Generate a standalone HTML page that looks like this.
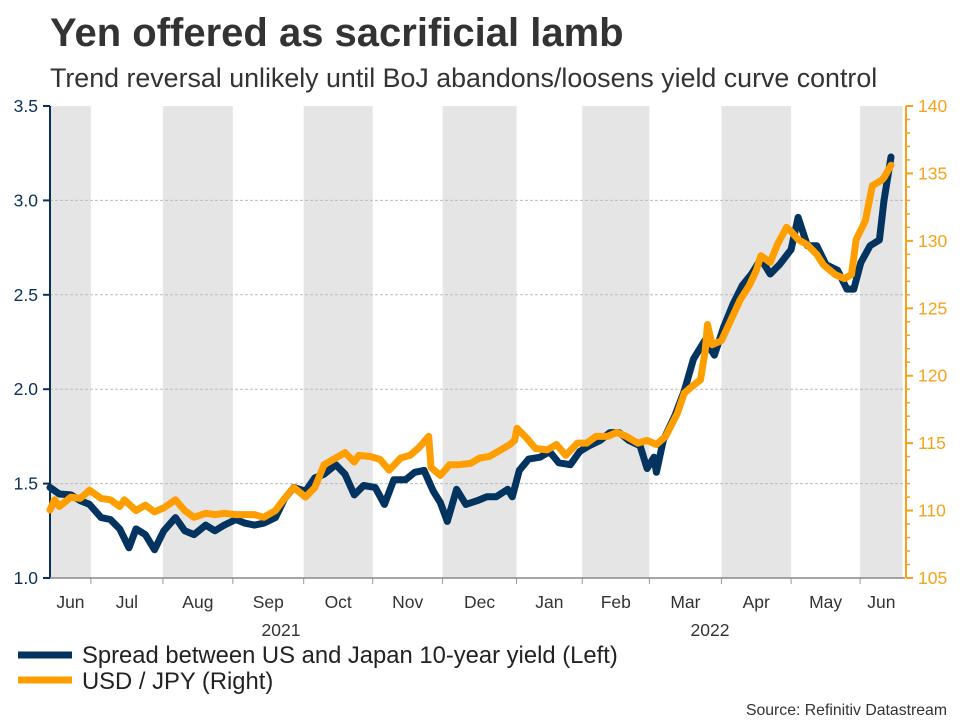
<!DOCTYPE html>
<html><head><meta charset="utf-8"><style>
body{margin:0;background:#fff;}
svg text{font-family:"Liberation Sans",Arial,sans-serif;}
</style></head><body>
<svg width="960" height="720" viewBox="0 0 960 720">
<text x="50" y="46" font-size="40" font-weight="bold" fill="#333">Yen offered as sacrificial lamb</text>
<text x="50" y="87" font-size="26.8" fill="#333">Trend reversal unlikely until BoJ abandons/loosens yield curve control</text>
<g id="bands"></g><g id="grid"></g><g id="axes"></g><g id="lines"></g>
<line x1="18" y1="655" x2="72" y2="655" stroke="#03335f" stroke-width="7"/>
<text x="82" y="663" font-size="23.8" fill="#222">Spread between US and Japan 10-year yield (Left)</text>
<line x1="18" y1="680" x2="72" y2="680" stroke="#ff9e00" stroke-width="7"/>
<text x="82" y="689" font-size="23.8" fill="#222">USD / JPY (Right)</text>
<text x="947" y="715" font-size="15.8" fill="#333" text-anchor="end">Source: Refinitiv Datastream</text>
</svg>
<script>
const spreadDays=[0,4,9,13,17,22,26,30,34,37,41,45,49,54,58,62,67,71,75,80,84,88,92,97,101,105,110,114,118,123,127,131,135,140,144,148,153,157,161,165,168,171,175,179,184,188,192,197,199,202,206,211,215,219,224,228,232,237,241,245,249,254,257,260,261,264,269,273,277,282,286,290,294,298,302,306,310,314,319,322,326,330,334,339,343,346,349,353,357,359,362];
const spreadVals=[1.48,1.445,1.44,1.41,1.39,1.32,1.31,1.26,1.16,1.26,1.23,1.15,1.25,1.32,1.25,1.23,1.28,1.25,1.28,1.31,1.29,1.28,1.29,1.32,1.42,1.48,1.46,1.53,1.55,1.60,1.55,1.44,1.49,1.48,1.39,1.52,1.52,1.56,1.57,1.46,1.40,1.30,1.47,1.39,1.41,1.43,1.43,1.47,1.43,1.57,1.63,1.64,1.67,1.61,1.60,1.67,1.70,1.73,1.77,1.77,1.73,1.70,1.58,1.64,1.56,1.73,1.86,1.99,2.16,2.26,2.18,2.33,2.45,2.55,2.61,2.69,2.61,2.66,2.74,2.91,2.76,2.76,2.66,2.63,2.53,2.53,2.67,2.76,2.79,3.00,3.23];
const jpyDays=[0,2,4,9,13,17,22,26,30,32,37,41,45,49,54,58,62,67,71,75,80,84,88,92,97,101,105,110,114,118,123,127,131,133,138,142,146,151,155,159,163,164,168,172,176,181,185,189,194,198,200,201,205,209,214,218,222,227,231,235,240,244,248,253,257,261,265,270,273,277,280,282,283,285,289,293,297,301,304,306,310,313,317,319,322,326,330,333,338,342,345,347,351,354,358,359,362];
const jpyVals=[110.04,110.8,110.3,111.0,110.9,111.5,110.9,110.8,110.3,110.8,110.0,110.4,109.9,110.2,110.8,110.0,109.5,109.8,109.7,109.8,109.7,109.7,109.7,109.5,110.0,110.9,111.7,111.0,111.7,113.4,113.9,114.3,113.6,114.1,114.0,113.8,113.0,113.9,114.1,114.7,115.5,113.2,112.6,113.4,113.4,113.5,113.9,114.0,114.5,114.9,115.2,116.1,115.4,114.6,114.5,114.9,114.1,115.0,115.0,115.5,115.5,115.8,115.5,115.0,115.2,114.9,115.5,117.2,118.7,119.3,119.7,121.8,123.8,122.3,122.6,124.1,125.6,126.7,127.8,128.9,128.4,129.7,131.0,130.7,130.1,129.7,129.0,128.2,127.5,127.2,127.5,130.1,131.5,134.1,134.5,134.7,135.6];
const monthTickDays=[-0.5,17.6,48.6,78.7,109.2,138.9,169,200.8,229.1,258,289,319,348.7,367];
const monthLabels=["Jun","Jul","Aug","Sep","Oct","Nov","Dec","Jan","Feb","Mar","Apr","May","Jun"];
const leftTicks=[1.0,1.5,2.0,2.5,3.0,3.5];
const rightTicks=[105,110,115,120,125,130,135,140];
const NS="http://www.w3.org/2000/svg";
const X0=50,X1=905,Y0=578,Y1=106;
function xs(d){return 50+d*(841/362);}
function yl(v){return Y0-(v-1.0)/(2.5)*(Y0-Y1);}
function yr(v){return Y0-(v-105)/35*(Y0-Y1);}
function mk(tag,attrs,parent,txt){const e=document.createElementNS(NS,tag);for(const k in attrs)e.setAttribute(k,attrs[k]);if(txt!==undefined)e.textContent=txt;document.getElementById(parent).appendChild(e);return e;}
for(let i=0;i<monthLabels.length;i++){
  const a=Math.max(X0,xs(monthTickDays[i])),b=Math.min(X1,xs(monthTickDays[i+1]));
  if(i%2===0){const r=mk('rect',{x:a,y:Y1,width:b-a,height:Y0-Y1,fill:'#e5e5e5'},'bands');
    
    }
  const t=mk('text',{x:(a+b)/2,y:608,'font-size':17.5,fill:'#333','text-anchor':'middle'},'axes',monthLabels[i]);
  
  
  if(i>0){const l=mk('line',{x1:a,x2:a,y1:Y0,y2:Y0+6,stroke:'#999','stroke-width':1},'axes');
    
    }
}
const y21=mk('text',{x:281,y:636,'font-size':17.5,fill:'#333','text-anchor':'middle'},'axes','2021');


const y22=mk('text',{x:710,y:636,'font-size':17.5,fill:'#333','text-anchor':'middle'},'axes','2022');


leftTicks.forEach(v=>{
  const y=yl(v);
  if(v>1.0&&v<3.5){const g=mk('line',{x1:X0,x2:X1,y1:y,y2:y,stroke:'#bbb','stroke-dasharray':'3,2','stroke-width':1},'grid');
    
    }
  const tk=mk('line',{x1:X0-7,x2:X0,y1:y,y2:y,stroke:'#0b2f5c','stroke-width':2},'axes');
  
  
  const t=mk('text',{x:38,y:y+6,'font-size':17.5,fill:'#0b2f5c','text-anchor':'end'},'axes',v.toFixed(1));
  
  
});
const la=mk('line',{x1:X0,x2:X0,y1:Y1,y2:Y0,stroke:'#0b2f5c','stroke-width':2},'axes');


const ba=mk('line',{x1:X0,x2:X1,y1:Y0,y2:Y0,stroke:'#888','stroke-width':1.5},'axes');


const ra=mk('line',{x1:X1+1,x2:X1+1,y1:Y1,y2:Y0,stroke:'#f7a21b','stroke-width':2},'axes');


for(let v=105;v<=140;v++){
  const y=yr(v);const major=v%5===0;
  const tk=mk('line',{x1:X1+1,x2:X1+(major?8:5),y1:y,y2:y,stroke:'#f7a21b','stroke-width':major?2:1.5},'axes');
  
  
}
rightTicks.forEach(v=>{
  const t=mk('text',{x:918,y:yr(v)+6,'font-size':17.5,fill:'#f7a21b'},'axes',String(v));
  
  
});
const sp=mk('polyline',{points:spreadDays.map((d,i)=>xs(d).toFixed(1)+','+yl(spreadVals[i]).toFixed(1)).join(' '),fill:'none',stroke:'#03335f','stroke-width':7,'stroke-linejoin':'round','stroke-linecap':'round'},'lines');


const jp=mk('polyline',{points:jpyDays.map((d,i)=>xs(d).toFixed(1)+','+yr(jpyVals[i]).toFixed(1)).join(' '),fill:'none',stroke:'#ff9e00','stroke-width':7,'stroke-linejoin':'round','stroke-linecap':'round'},'lines');


</script>
</body></html>
